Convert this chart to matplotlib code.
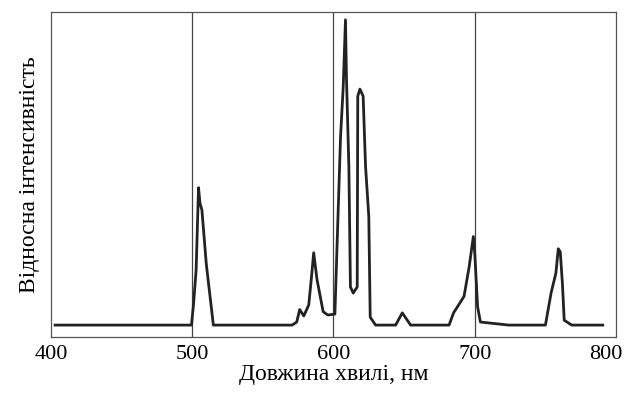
import matplotlib.pyplot as plt
from matplotlib.transforms import ScaledTranslation

# spectrum: wavelength (nm) and relative intensity
wavelength = [403, 499.5, 501, 502.8, 504.5, 505.5, 506.9, 510, 515,
              570.7, 574, 576.1, 579, 582.5, 584.5, 586, 588.4, 592.7, 596, 601,
              605, 606.9, 608.5, 609.2, 610.9, 612, 614, 616.8, 617.2, 618.7,
              621, 622.7, 625, 626, 629.8,
              644, 648.7, 654.6,
              681.8, 685, 692.4, 696, 699, 700, 702, 704,
              724, 750, 754, 757.4, 759.1, 760.5, 762, 763.3, 768.6, 790.6]
intensity = [0, 0, 0.07, 0.18, 0.45, 0.40, 0.377, 0.2, 0,
             0, 0.01, 0.051, 0.03, 0.066, 0.16, 0.237, 0.148, 0.044, 0.033, 0.036,
             0.616, 0.78, 1.0, 0.81, 0.52, 0.125, 0.105, 0.125, 0.75, 0.773,
             0.75, 0.52, 0.356, 0.026, 0,
             0, 0.04, 0,
             0, 0.04, 0.094, 0.19, 0.29, 0.235, 0.06, 0.01,
             0, 0, 0.105, 0.17, 0.25, 0.24, 0.138, 0.016, 0, 0]

xticks = [400, 500, 600, 700, 800]
grid_x = [500, 600, 700]

plt.rcParams['font.family'] = ['Liberation Serif', 'DejaVu Serif']

fig = plt.figure(figsize=(6.28, 3.96), dpi=100)
ax = fig.add_axes([0.081, 0.149, 0.900, 0.821])

for gx in grid_x:
    ax.axvline(gx, color='#444444', lw=0.9)
ax.plot(wavelength, intensity, color='#222222', lw=2.0)

ax.set_xlim(400, 800)
ax.set_ylim(-0.039, 1.026)
ax.set_xticks(xticks)
ax.set_yticks([])
ax.tick_params(axis='x', length=0, labelsize=16, pad=6)
for s in ax.spines.values():
    s.set_color('#555555')
    s.set_linewidth(0.9)

# last label sits a bit inside the frame
last = ax.get_xticklabels()[-1]
last.set_transform(last.get_transform() + ScaledTranslation(-0.10, 0, fig.dpi_scale_trans))

ax.set_xlabel('Довжина хвилі, нм', fontsize=17, labelpad=0)
ax.set_ylabel('Відносна інтенсивність', fontsize=17, labelpad=8)

fig.savefig('out.png', dpi=100)
